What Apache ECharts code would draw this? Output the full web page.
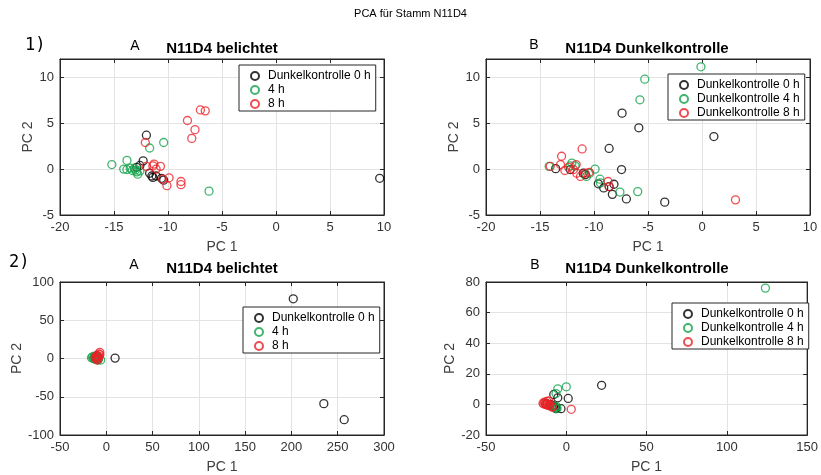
<!DOCTYPE html>
<html>
<head>
<meta charset="utf-8">
<script src="https://cdn.jsdelivr.net/npm/echarts@6/dist/echarts.min.js"></script>
<style>
  html, body { margin: 0; padding: 0; background: #fff; }
  #chart { width: 821px; height: 475px; }
</style>
</head>
<body>
<div id="chart"></div>
<script>
// PCA scores (PC 1, PC 2) for strain N11D4

// Row 1, panel A: illuminated samples
const litDark0 = [[-12.0, 3.7], [-12.3, 0.9], [-12.6, 0.4], [-12.9, 0.2], [-11.7, -0.45], [-11.5, -0.75],
  [-11.1, -0.75], [-11.4, -0.9], [-10.6, -1.0], [-10.4, -1.2], [9.6, -1.0]];
const lit4h = [[-15.2, 0.5], [-13.8, 0.95], [-14.1, 0.0], [-13.8, -0.05], [-13.5, 0.1], [-13.3, -0.15],
  [-13.1, 0.1], [-12.9, -0.3], [-12.8, -0.55], [-12.6, -0.2], [-13.0, -0.1], [-11.7, 2.3], [-10.4, 2.9],
  [-6.2, -2.4]];
const lit8h = [[-12.1, 2.9], [-12.0, 0.3], [-11.3, 0.55], [-11.1, 0.0], [-10.7, 0.3], [-11.4, 0.35],
  [-10.5, -1.1], [-9.9, -0.95], [-10.1, -1.8], [-8.8, -1.35], [-8.8, -1.7], [-8.2, 5.3], [-7.5, 4.3],
  [-7.8, 3.35], [-7.0, 6.45], [-6.55, 6.35]];

// Row 1, panel B: dark controls
const darkB0 = [[-13.55, 0.05], [-12.2, -0.05], [-11.0, -0.45], [-10.8, -0.6], [-9.6, -1.6], [-9.1, -2.05],
  [-8.6, 2.25], [-8.3, -2.75], [-8.15, -1.65], [-8.6, -1.9], [-7.45, -0.05], [-7.4, 6.1], [-7.0, -3.25],
  [-5.85, 4.5], [-3.45, -3.6], [1.1, 3.55]];
const darkB4 = [[-14.15, 0.3], [-12.2, 0.35], [-12.05, 0.65], [-11.75, 0.35], [-10.7, -0.8], [-10.4, -0.45],
  [-9.9, 0.0], [-9.45, -1.1], [-9.4, -1.5], [-7.6, -2.5], [-5.95, -2.45], [-5.75, 7.55], [-5.3, 9.8],
  [-0.1, 11.15]];
const darkB8 = [[-14.05, 0.3], [-13.0, 1.4], [-13.1, 0.5], [-12.7, -0.15], [-12.35, 0.2], [-11.9, -0.05],
  [-11.65, 0.5], [-11.6, -0.45], [-11.25, -0.8], [-11.1, 2.2], [-10.85, -0.45], [-10.45, -0.35],
  [-8.7, -1.35], [-8.6, -1.9], [3.1, -3.35]];

// Row 2, panel A: illuminated samples (second data set)
const lit2Dark0 = [[-12, 2], [-10, 3], [-9, -1], [-11, 0], [9.5, 0.5], [202, 78], [235, -59], [257, -80]];
const lit2_4h = [[-16, 1], [-15, 2], [-14, 0], [-13, 1], [-12, -1], [-11, 2], [-10, 0], [-9, -2], [-6, -2],
  [-13, 3], [-8, 1]];
const lit2_8h = [[-12, 1], [-11, 3], [-10, 4], [-9, 2], [-8, 6], [-7, 8], [-9, -1], [-10, -2], [-11, 0],
  [-8, 3], [-7, 5]];

// Row 2, panel B: dark controls (second data set)
const dark2B0 = [[22, 12.5], [1.2, 3.9], [-7.8, 6.5], [-5.3, 4.3], [-3.3, -2.8], [-6.4, -2.8], [-8, -1.1],
  [-9, -0.5], [-10, 0], [-12, 0.3], [-7, -1.8]];
const dark2B4 = [[124, 76], [0, 11.5], [-5.3, 10.2], [-6.4, 7.1], [-7, -2.2], [-5.8, -2.8], [-9, -1],
  [-10, -0.5], [-12, 0.4], [-13, 0.2], [-6, -1.5]];
const dark2B8 = [[3.1, -3.2], [-14, 0.3], [-13.5, 1.5], [-13, 0.5], [-12.5, -0.2], [-12, 0.3], [-11.5, -0.5],
  [-11, 2.3], [-10.8, -0.8], [-10.5, -0.4], [-9, -1.4], [-8.7, -1.9], [-14.5, 0.8], [-12, 2]];

// Axis ranges and tick spacing per panel: [xmin, xmax, xstep, ymin, ymax, ystep]
const panelRanges = [
  [-20, 10, 5, -5, 12, 5],
  [-20, 10, 5, -5, 12, 5],
  [-50, 300, 50, -100, 100, 50],
  [-50, 150, 50, -20, 80, 20]
];

const legendA = ['Dunkelkontrolle 0 h', '4 h', '8 h'];
const legendB = ['Dunkelkontrolle 0 h', 'Dunkelkontrolle 4 h', 'Dunkelkontrolle 8 h'];
const panelTitles = ['N11D4 belichtet', 'N11D4 Dunkelkontrolle', 'N11D4 belichtet', 'N11D4 Dunkelkontrolle'];
const panelLetters = ['A', 'B', 'A', 'B'];
const rowLabels = ['1)', '2)'];
const mainTitle = 'PCA für Stamm N11D4';

const COLORS = ['#000000', '#12a24a', '#ec2027'];
const FONT = 'Liberation Sans, Arial, Helvetica, sans-serif';
const AX = '#262626';

const grids = [
  { left: 60, top: 59, width: 324, height: 156 },
  { left: 486, top: 59, width: 324, height: 156 },
  { left: 60, top: 282, width: 324, height: 154 },
  { left: 486, top: 282, width: 324, height: 154 }
];
const yNameGaps = [22, 23, 35, 28];

const xAxes = [], yAxes = [];
panelRanges.forEach((r, i) => {
  const tick = { show: true, inside: true, length: 4, lineStyle: { color: AX } };
  xAxes.push({
    gridIndex: i, type: 'value', min: r[0], max: r[1], interval: r[2],
    name: 'PC 1', nameLocation: 'middle', nameGap: 25,
    nameTextStyle: { fontFamily: FONT, fontSize: 14, color: '#404040' },
    axisLine: { show: true, onZero: false, lineStyle: { color: AX, width: 1 } },
    axisTick: tick,
    axisLabel: { fontFamily: FONT, fontSize: 13, color: '#333', margin: 6 },
    splitLine: { show: true, lineStyle: { color: '#e3e3e3', width: 1 } }
  });
  yAxes.push({
    gridIndex: i, type: 'value', min: r[3], max: r[4], interval: r[5],
    name: 'PC 2', nameLocation: 'middle', nameGap: yNameGaps[i],
    nameTextStyle: { fontFamily: FONT, fontSize: 14, color: '#404040' },
    axisLine: { show: true, onZero: false, lineStyle: { color: AX, width: 1 } },
    axisTick: tick,
    axisLabel: { fontFamily: FONT, fontSize: 13, color: '#333', margin: 6, showMaxLabel: r[4] % r[5] === 0 },
    splitLine: { show: true, lineStyle: { color: '#e3e3e3', width: 1 } }
  });
});
// Mirror axes on top and right carry the inward ticks of the box
panelRanges.forEach((r, i) => {
  const tick = { show: true, inside: true, length: 4, lineStyle: { color: AX } };
  xAxes.push({
    gridIndex: i, type: 'value', position: 'top', min: r[0], max: r[1], interval: r[2],
    axisLine: { show: true, onZero: false, lineStyle: { color: AX } }, axisTick: tick,
    axisLabel: { show: false }, splitLine: { show: false }
  });
  yAxes.push({
    gridIndex: i, type: 'value', position: 'right', min: r[3], max: r[4], interval: r[5],
    axisLine: { show: true, onZero: false, lineStyle: { color: AX } }, axisTick: tick,
    axisLabel: { show: false }, splitLine: { show: false }
  });
});

function scatter(name, data, color, idx) {
  return {
    type: 'scatter', name, data, xAxisIndex: idx, yAxisIndex: idx,
    symbol: 'circle', symbolSize: 8,
    itemStyle: { color: 'rgba(0,0,0,0)', borderColor: color, borderWidth: 1.3 },
    emphasis: { disabled: true }, z: 3
  };
}

const panelData = [
  [litDark0, lit4h, lit8h],
  [darkB0, darkB4, darkB8],
  [lit2Dark0, lit2_4h, lit2_8h],
  [dark2B0, dark2B4, dark2B8]
];
const series = [];
panelData.forEach((sets, i) => {
  const names = (i % 2 === 0) ? legendA : legendB;
  sets.forEach((d, k) => series.push(scatter(names[k], d, COLORS[k], i)));
});

const legendBoxes = [
  { left: 239, top: 65 },
  { left: 668, top: 74 },
  { left: 243, top: 307 },
  { left: 672, top: 303 }
];
const legends = legendBoxes.map((b, i) => ({
  show: true, orient: 'vertical', left: b.left, top: b.top,
  data: (i % 2 === 0) ? legendA : legendB,
  backgroundColor: '#fff', borderColor: AX, borderWidth: 1,
  padding: [5, 5, 1, 11], itemGap: 2, itemWidth: 8, itemHeight: 8,
  selectedMode: false,
  textStyle: { fontFamily: FONT, fontSize: 12, color: '#000', padding: [0, 0, 0, 4] },
  z: 10
}));

const texts = [];
texts.push({ type: 'text', left: 'center', top: 8,
  style: { text: mainTitle, font: '11px ' + FONT, fill: '#000' } });
const titleY = [49, 49, 269, 269];
const titleX = [222, 647, 222, 647];
const letterX = [135, 534, 134, 535];
const letterY = [46, 45, 265, 265];
for (let i = 0; i < 4; i++) {
  texts.push({ type: 'text', x: titleX[i], y: titleY[i],
    style: { text: panelTitles[i], font: 'bold 15px ' + FONT, fill: '#000', align: 'center', verticalAlign: 'middle' } });
  texts.push({ type: 'text', x: letterX[i], y: letterY[i],
    style: { text: panelLetters[i], font: '14px ' + FONT, fill: '#000', align: 'center', verticalAlign: 'middle' } });
}
texts.push({ type: 'text', x: 25, y: 46,
  style: { text: rowLabels[0], font: '17px DejaVu Sans Mono, monospace', fill: '#000', verticalAlign: 'middle' } });
texts.push({ type: 'text', x: 9, y: 263,
  style: { text: rowLabels[1], font: '17px DejaVu Sans Mono, monospace', fill: '#000', verticalAlign: 'middle' } });

const chart = echarts.init(document.getElementById('chart'), null, { renderer: 'canvas' });
chart.setOption({
  animation: false,
  backgroundColor: '#fff',
  grid: grids.map(g => Object.assign({ show: true, borderColor: AX, borderWidth: 1, backgroundColor: '#fff' }, g)),
  xAxis: xAxes,
  yAxis: yAxes,
  legend: legends,
  graphic: texts,
  series
});
</script>
</body>
</html>
